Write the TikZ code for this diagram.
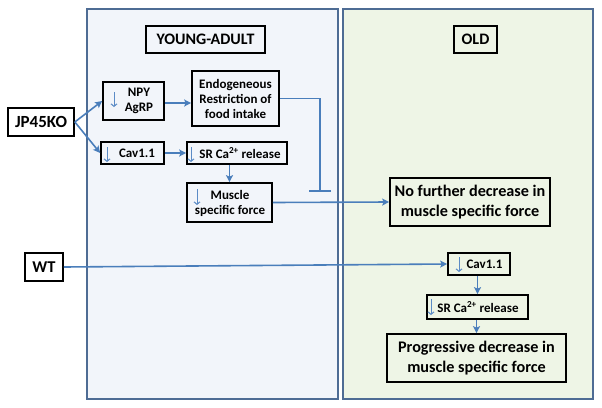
\documentclass[tikz,border=0pt]{standalone}
\usepackage{fontspec}
\setmainfont{Carlito}
\usetikzlibrary{arrows.meta,calc}
\definecolor{arrblue}{HTML}{4A7EBB}
\definecolor{smallblue}{HTML}{5B8BC6}
\definecolor{panelline}{HTML}{4E6C94}
\definecolor{youngfill}{HTML}{F2F5FA}
\definecolor{oldfill}{HTML}{EEF5E6}
\tikzset{
  panel/.style={draw=panelline, line width=1.8pt, inner sep=0pt},
  box/.style={draw=black, line width=1.7pt, inner sep=0pt},
  txt/.style={inner sep=0pt, align=center, font=\bfseries\fontsize{13}{15}\selectfont},
  bigtxt/.style={inner sep=0pt, align=center, font=\bfseries\fontsize{16.2}{19.5}\selectfont},
  conn/.style={draw=arrblue, line width=1.6pt, -{Stealth[length=7pt,width=7pt,inset=1.5pt]}},
  plainconn/.style={draw=arrblue, line width=1.6pt},
  dn/.style={draw=smallblue, line width=1pt, -{Straight Barb[length=2.5pt,width=6pt]}},
}
\begin{document}
\begin{tikzpicture}[x=1pt,y=-1pt]
\useasboundingbox (0,0) rectangle (602,407);
\fill[white] (0,0) rectangle (602,407);

% panels
\node[panel, fill=youngfill, minimum width=251pt, minimum height=390pt] (young) at (212.5,204) {};
\node[panel, fill=oldfill, minimum width=250pt, minimum height=390pt] (old) at (468,204) {};

% titles
\node[box, minimum width=119pt, minimum height=27pt, font=\bfseries\fontsize{16}{19}\selectfont] (yatitle) at (205.5,39.5) {YOUNG-ADULT};
\node[box, minimum width=43pt, minimum height=27pt, font=\bfseries\fontsize{16}{19}\selectfont] (oldtitle) at (475.5,39.5) {OLD};

% left nodes
\node[box, fill=white, minimum width=66pt, minimum height=28pt, font=\bfseries\fontsize{17}{20}\selectfont] (jp) at (41,122) {JP45KO};
\node[box, fill=white, minimum width=38pt, minimum height=28pt, font=\bfseries\fontsize{16.5}{20}\selectfont] (wt) at (44,267) {WT};

% young boxes
\node[box, minimum width=61pt, minimum height=38pt] (npy) at (133.5,101) {};
\node[txt] (npyt) at (139,101) {NPY\\AgRP};
\node[box, minimum width=87pt, minimum height=55pt] (endog) at (235.5,98.5) {};
\node[txt] (endogt) at (235.5,98.5) {Endogeneous\\Restriction of\\food intake};
\node[box, minimum width=63pt, minimum height=22pt] (cav) at (132.5,153) {};
\node[txt] (cavt) at (137,153) {Cav1.1};
\node[box, minimum width=100pt, minimum height=22pt] (sr) at (237,153) {};
\node[txt] (srt) at (240,153) {SR Ca\textsuperscript{2+} release};
\node[box, minimum width=85pt, minimum height=39pt] (msf) at (229.5,202.5) {};
\node[txt] (msft) at (230,203) {Muscle\\specific force};

% old boxes
\node[box, minimum width=160pt, minimum height=48pt] (nofurther) at (470,202) {};
\node[bigtxt] (nofurthert) at (470,202) {No further decrease in\\muscle specific force};
\node[box, minimum width=62pt, minimum height=22pt] (ocav) at (479,264) {};
\node[txt] (ocavt) at (484.5,264) {Cav1.1};
\node[box, minimum width=101pt, minimum height=24pt] (osr) at (477.5,307) {};
\node[txt] (osrt) at (478,307) {SR Ca\textsuperscript{2+} release};
\node[box, minimum width=179pt, minimum height=48pt] (prog) at (476.5,358) {};
\node[bigtxt] (progt) at (476.5,358) {Progressive decrease in\\muscle specific force};

% small down arrows inside boxes
\draw[dn] (114,92) -- (114,107);
\draw[dn] (107,147) -- (107,162);
\draw[dn] (191,147) -- (191,162);
\draw[dn] (197,189) -- (197,205);
\draw[dn] (459,257) -- (459,272);
\draw[dn] (431,299) -- (431,315);

% connectors
\draw[conn] (jp.east) -- (npy.west);
\draw[conn] (jp.east) -- (cav.west);
\draw[conn] ($(npy.east)+(0,2)$) -- ($(npy.east -| endog.west)+(0,2)$);
\draw[conn] (cav.east) -- (sr.west);
\draw[conn] (sr.south -| msf.north) -- (msf.north);
\coordinate (tbar) at (320,192);
\draw[plainconn, -{Bar[width=22pt,line width=1.6pt]}] (endog.east) -| (tbar);
\draw[conn] (msf.east) -- (nofurther.west);
\draw[conn] (wt.east) -- (ocav.west);
\draw[conn] (ocav.south -| osr.north) -- (osr.north);
\draw[conn] (osr.south -| prog.north) -- (prog.north);
\end{tikzpicture}
\end{document}
